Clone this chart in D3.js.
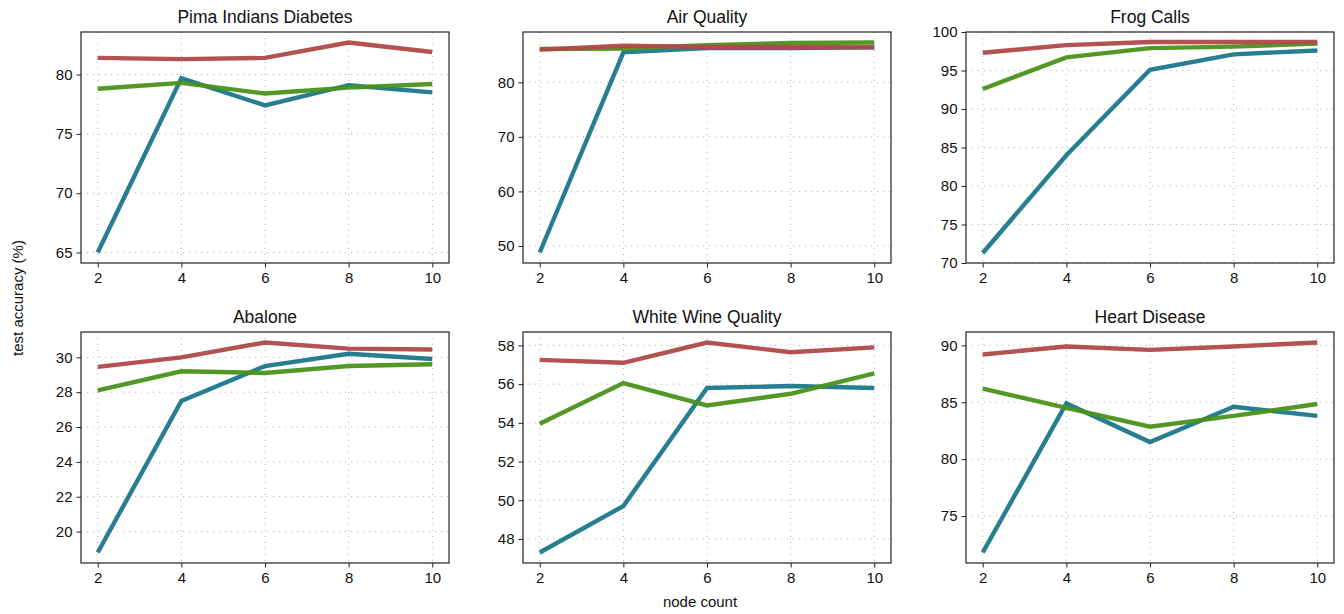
<!DOCTYPE html>
<html>
<head>
<meta charset="utf-8">
<script src="https://cdn.jsdelivr.net/npm/d3@7"></script>
<style>
  body { margin: 0; background: #fff; }
  svg { display: block; font-family: "Liberation Sans", Arial, sans-serif; }
  .tick text { font-size: 15px; fill: #111; }
</style>
</head>
<body>
<div id="chart"></div>
<script>
const nodeCounts = [2, 4, 6, 8, 10]
const titles = ["Pima Indians Diabetes", "Air Quality", "Frog Calls", "Abalone", "White Wine Quality", "Heart Disease"]

// three series per panel: teal, green, red
const tealVals = [
    [65.0, 79.7, 77.4, 79.1, 78.5],
    [48.8, 85.5, 86.3, 86.3, 86.4],
    [71.3, 84.0, 95.1, 97.1, 97.6],
    [18.8, 27.5, 29.5, 30.2, 29.9],
    [47.3, 49.7, 55.8, 55.9, 55.8],
    [71.8, 84.9, 81.5, 84.6, 83.8]
]
const greenVals = [
    [78.8, 79.3, 78.4, 78.9, 79.2],
    [86.1, 86.2, 86.8, 87.2, 87.3],
    [92.6, 96.7, 97.9, 98.1, 98.5],
    [28.1, 29.2, 29.1, 29.5, 29.6],
    [53.95, 56.05, 54.9, 55.5, 56.55],
    [86.2, 84.5, 82.85, 83.8, 84.85]
]
const redVals = [
    [81.4, 81.3, 81.4, 82.7, 81.9],
    [86.0, 86.7, 86.5, 86.5, 86.4],
    [97.3, 98.3, 98.7, 98.7, 98.7],
    [29.45, 30.0, 30.85, 30.5, 30.45],
    [57.25, 57.1, 58.15, 57.65, 57.9],
    [89.2, 89.9, 89.6, 89.9, 90.25]
]
const yTicks = [
    [65, 70, 75, 80],
    [50, 60, 70, 80],
    [70, 75, 80, 85, 90, 95, 100],
    [20, 22, 24, 26, 28, 30],
    [48, 50, 52, 54, 56, 58],
    [75, 80, 85, 90]
]
const fixedDomains = [null, null, [70, 100], null, null, null]
const colors = ["#1b778b", "#4a921a", "#b04848"]

const W = 1344, H = 614
const colX = [81, 523, 966], rowY = [32, 332]
const pw = 368, ph = 231

const svg = d3.select("#chart").append("svg").attr("width", W).attr("height", H)

titles.forEach((title, i) => {
    let g = svg.append("g")
        .attr("transform", `translate(${colX[i % 3]},${rowY[Math.floor(i / 3)]})`)
    let series = [tealVals[i], greenVals[i], redVals[i]]

    let x = d3.scaleLinear().domain([1.6, 10.4]).range([0, pw])
    let dom = fixedDomains[i]
    if (!dom) {
        let ext = d3.extent(series.flat())
        let pad = (ext[1] - ext[0]) * 0.05
        dom = [ext[0] - pad, ext[1] + pad]
    }
    let y = d3.scaleLinear().domain(dom).range([ph, 0])

    // dotted grid
    g.append("g").selectAll("line").data(nodeCounts).join("line")
        .attr("x1", d => x(d)).attr("x2", d => x(d))
        .attr("y1", 0).attr("y2", ph)
        .attr("stroke", "#b0b0b0").attr("stroke-dasharray", "1,5")
    g.append("g").selectAll("line").data(yTicks[i]).join("line")
        .attr("y1", d => y(d)).attr("y2", d => y(d))
        .attr("x1", 0).attr("x2", pw)
        .attr("stroke", "#b0b0b0").attr("stroke-dasharray", "1,5")

    let line = d3.line().x((d, k) => x(nodeCounts[k])).y(d => y(d))
    g.append("g").selectAll("path").data(series).join("path")
        .attr("d", line)
        .attr("fill", "none")
        .attr("stroke", (d, k) => colors[k])
        .attr("stroke-width", 4.4)
        .attr("stroke-opacity", 0.95)

    let xa = g.append("g").attr("transform", `translate(0,${ph})`)
        .call(d3.axisBottom(x).tickValues(nodeCounts).tickSize(4.5).tickPadding(5))
    let ya = g.append("g")
        .call(d3.axisLeft(y).tickValues(yTicks[i]).tickSize(4.5).tickPadding(4))
    ;[xa, ya].forEach(a => {
        a.select(".domain").remove()
        a.selectAll(".tick line").attr("stroke", "#222").attr("stroke-width", 1)
        a.selectAll(".tick text").attr("font-family", null).attr("font-size", null)
    })

    g.append("rect").attr("width", pw).attr("height", ph)
        .attr("fill", "none").attr("stroke", "#222").attr("stroke-width", 1.2)

    g.append("text").attr("x", pw / 2).attr("y", -9)
        .attr("text-anchor", "middle").attr("font-size", 17.5).attr("fill", "#111")
        .text(title)
})

svg.append("text").attr("x", 700).attr("y", 607)
    .attr("text-anchor", "middle").attr("font-size", 15).attr("fill", "#111")
    .text("node count")
svg.append("text")
    .attr("transform", "translate(23,298) rotate(-90)")
    .attr("text-anchor", "middle").attr("font-size", 15).attr("fill", "#111")
    .text("test accuracy (%)")
</script>
</body>
</html>
